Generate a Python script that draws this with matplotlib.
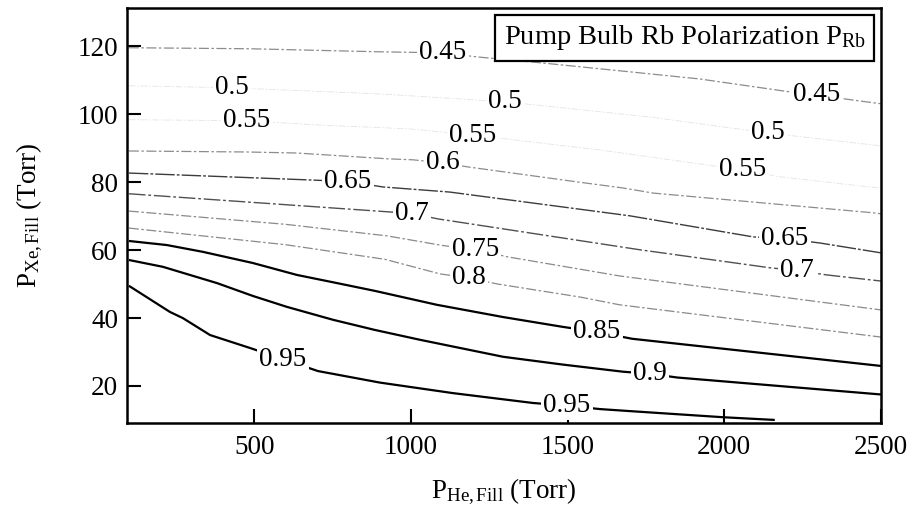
import numpy as np
import matplotlib
matplotlib.use("Agg")
import matplotlib.pyplot as plt

plt.rcParams['font.family'] = ['Liberation Serif', 'DejaVu Serif']
plt.rcParams['mathtext.fontset'] = 'custom'
plt.rcParams['mathtext.rm'] = 'Liberation Serif'
plt.rcParams['mathtext.it'] = 'Liberation Serif:italic'

# ---------------- data ----------------
# contour levels of pump bulb Rb polarization
levels = [0.45, 0.5, 0.55, 0.6, 0.65, 0.7, 0.75, 0.8, 0.85, 0.9, 0.95]

# He fill pressure (Torr) / Xe fill pressure (Torr) along each contour
he_045 = [100, 486, 901, 1102, 1211, 1421, 1699, 1922, 2209, 2295, 2410, 2500]
xe_045 = [119.6, 119.3, 118.4, 118.1, 116.9, 115.1, 112.5, 110.4, 106.6, 105.7, 104.2, 103.1]

he_050 = [100, 429, 901, 1300, 1763, 2139, 2500]
xe_050 = [108.4, 107.8, 106.0, 103.7, 99.2, 94.5, 90.7]

he_055 = [100, 477, 694, 997, 1198, 1603, 2060, 2177, 2464, 2500]
xe_055 = [98.4, 98.1, 96.9, 95.7, 93.9, 89.5, 83.6, 81.6, 78.6, 78.3]

he_060 = [100, 477, 636, 924, 1006, 1102, 1182, 1530, 1677, 1773, 2474, 2500]
xe_060 = [89.2, 88.9, 88.6, 86.9, 86.6, 85.7, 84.5, 80.1, 78.3, 76.8, 71.0, 70.7]

he_065 = [100, 668, 799, 911, 1124, 1699, 2092, 2193, 2305, 2500]
xe_065 = [82.7, 80.7, 80.2, 78.6, 77.1, 70.1, 63.9, 63.4, 62.1, 59.2]

he_070 = [100, 924, 1003, 1086, 1731, 2146, 2232, 2327, 2500]
xe_070 = [76.6, 71.3, 70.8, 69.2, 60.1, 54.8, 54.0, 52.7, 50.9]

he_075 = [100, 600, 924, 1099, 1205, 1310, 1666, 2500]
xe_075 = [71.5, 67.6, 64.2, 61.4, 60.1, 58.0, 52.4, 42.4]

he_080 = [100, 600, 917, 1093, 1185, 1278, 1539, 1666, 2500]
xe_080 = [66.5, 61.6, 57.3, 53.0, 51.8, 50.0, 46.2, 43.9, 34.4]

he_085 = [100, 221, 336, 496, 636, 764, 885, 1083, 1294, 1485, 1594, 1706, 2500]
xe_085 = [62.7, 61.5, 59.5, 56.2, 52.7, 50.3, 48.0, 43.9, 40.3, 37.4, 35.9, 33.9, 25.9]

he_090 = [100, 208, 381, 496, 604, 751, 885, 1029, 1294, 1485, 1677, 1763, 1849, 2500]
xe_090 = [57.1, 55.1, 50.3, 46.5, 43.3, 39.5, 36.5, 33.6, 28.6, 26.3, 24.2, 23.6, 22.5, 17.5]

he_095 = [100, 231, 272, 359, 486, 592, 703, 901, 1134, 1389, 1498, 1603, 1699, 1996, 2161]
xe_095 = [49.5, 41.8, 40.0, 35.0, 31.2, 27.9, 24.4, 21.0, 17.9, 15.0, 14.2, 13.2, 12.6, 10.8, 10.0]

# He pressures where each contour carries its inline label
label_he = {
    0.45: [1102, 2295],
    0.5: [429, 1300, 2139],
    0.55: [477, 1198, 2060],
    0.6: [1102],
    0.65: [799, 2193],
    0.7: [1003, 2232],
    0.75: [1205],
    0.8: [1185],
    0.85: [1594],
    0.9: [1763],
    0.95: [592, 1498],
}

x_ticks = [500, 1000, 1500, 2000, 2500]
y_ticks = [20, 40, 60, 80, 100, 120]
x_label = r'$\mathrm{P}_{\mathrm{He,Fill}}$ (Torr)'
y_label = r'$\mathrm{P}_{\mathrm{Xe,Fill}}$ (Torr)'
title_text = r'Pump Bulb Rb Polarization $\mathrm{P}_{\mathrm{Rb}}$'

curves = {
    0.45: (he_045, xe_045), 0.5: (he_050, xe_050), 0.55: (he_055, xe_055),
    0.6: (he_060, xe_060), 0.65: (he_065, xe_065), 0.7: (he_070, xe_070),
    0.75: (he_075, xe_075), 0.8: (he_080, xe_080), 0.85: (he_085, xe_085),
    0.9: (he_090, xe_090), 0.95: (he_095, xe_095),
}

# ---------------- styles ----------------
gray_dash = (0, (8, 2, 2, 2))
styles = {
    0.45: dict(color='#8c8c8c', lw=0.9, ls=gray_dash),
    0.5: dict(color='#e4e4e4', lw=0.6, ls=gray_dash),
    0.55: dict(color='#e4e4e4', lw=0.6, ls=gray_dash),
    0.6: dict(color='#8c8c8c', lw=0.9, ls=gray_dash),
    0.65: dict(color='#3c3c3c', lw=1.0, ls=(0, (14, 1.5, 2, 1.5))),
    0.7: dict(color='#505050', lw=1.0, ls=(0, (12, 2, 2, 2))),
    0.75: dict(color='#8a8a8a', lw=0.9, ls=gray_dash),
    0.8: dict(color='#8a8a8a', lw=0.9, ls=gray_dash),
    0.85: dict(color='black', lw=1.6, ls='-'),
    0.9: dict(color='black', lw=1.6, ls='-'),
    0.95: dict(color='black', lw=1.6, ls='-'),
}

FS = 19.5

fig = plt.figure(figsize=(9.11, 5.08), dpi=100)
ax = fig.add_axes([126.7 / 911, 85 / 508, 754.3 / 911, 415 / 508])

for lev in levels:
    he, xe = curves[lev]
    st = styles[lev]
    ax.plot(he, xe, color=st['color'], lw=st['lw'], linestyle=st['ls'],
            solid_capstyle='butt', zorder=2)
    for hx in label_he[lev]:
        yy = np.interp(hx, he, xe)
        ax.text(hx, yy, f'{lev:g}', fontsize=FS, ha='center', va='center',
                zorder=3, bbox=dict(facecolor='white', edgecolor='none', pad=1.5))

ax.set_xlim(93, 2500)
ax.set_ylim(9.1, 131.3)
ax.set_xticks(x_ticks)
ax.set_yticks(y_ticks)
ax.tick_params(direction='in', length=10, width=1.5, labelsize=FS,
               top=False, right=False)
ax.tick_params(axis='x', pad=9)
ax.tick_params(axis='y', pad=6)
for sp in ax.spines.values():
    sp.set_linewidth(1.8)

ax.set_xlabel(x_label, fontsize=FS)
ax.set_ylabel(y_label, fontsize=FS)
ax.xaxis.set_label_coords(0.5, -0.13)
ax.yaxis.set_label_coords(-0.108, 0.5)

ax.text(0.980, 0.9634, title_text, transform=ax.transAxes, fontsize=20.5,
        ha='right', va='top', zorder=5,
        bbox=dict(facecolor='white', edgecolor='black', linewidth=1.6,
                  boxstyle='square,pad=0.3'))

fig.savefig('out.png', dpi=100)
